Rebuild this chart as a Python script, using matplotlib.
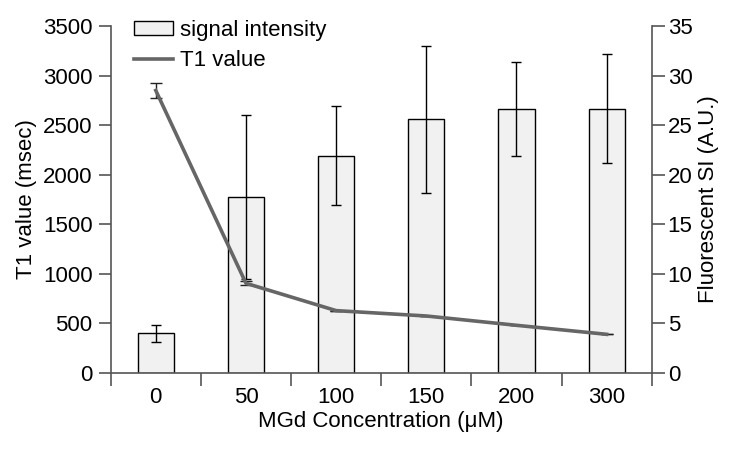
# Dual-axis bar + line chart: fluorescence signal and T1 value vs MGd concentration
import numpy as np
from matplotlib import pyplot as plt
from matplotlib.patches import Patch
from matplotlib.lines import Line2D

plt.rcParams['font.family'] = ['Liberation Sans', 'DejaVu Sans']

# Data
concentrations = ['0', '50', '100', '150', '200', '300']
signal_si = [4.0, 17.75, 21.9, 25.6, 26.65, 26.65]
signal_err = [0.88, 8.27, 5.0, 7.4, 4.72, 5.48]
t1_values = [2850, 905, 629, 575, 481, 390]
t1_err = [80, 20, 0, 0, 0, 0]

axis_grey = '#555555'
line_grey = '#666666'
fs = 16

fig = plt.figure(figsize=(7.36, 4.49), dpi=100)
ax1 = fig.add_axes([0.1504, 0.1693, 0.7351, 0.7727])
ax2 = ax1.twinx()
ax1.set_zorder(ax2.get_zorder() + 1)
ax1.patch.set_visible(False)

x = np.arange(len(concentrations))

# Bars on the right axis (fluorescent SI)
ax2.bar(x, signal_si, width=0.4, color='#f1f1f1', edgecolor='black', linewidth=1.0,
        yerr=signal_err, error_kw=dict(ecolor='black', elinewidth=1.0, capsize=3.5, capthick=1.0))

# T1 line on the left axis
ax1.errorbar(x, t1_values, yerr=t1_err, color=line_grey, lw=2.6, ecolor='#222222',
             elinewidth=1.0, capsize=4, capthick=1.0)

ax1.set_xlim(-0.5, len(concentrations) - 0.5)
ax1.set_ylim(0, 3500)
ax2.set_ylim(0, 35)
ax1.set_yticks(np.arange(0, 3501, 500))
ax2.set_yticks(np.arange(0, 36, 5))

ax1.set_xticks(x)
ax1.set_xticklabels(concentrations)
ax1.set_xticks(np.arange(-0.5, len(concentrations)), minor=True)
ax1.tick_params(axis='x', which='major', length=0, pad=10)
ax1.tick_params(axis='x', which='minor', length=9, width=1.2, color=axis_grey)

for ax in (ax1, ax2):
    ax.spines['top'].set_visible(False)
    for s in ('left', 'right', 'bottom'):
        ax.spines[s].set_color(axis_grey)
        ax.spines[s].set_linewidth(1.2)
    ax.tick_params(axis='y', length=9, width=1.2, color=axis_grey, labelsize=fs)
    ax.tick_params(axis='x', labelsize=fs)
ax1.tick_params(axis='y', pad=4)
ax2.tick_params(axis='y', pad=2.5)
ax2.spines['bottom'].set_visible(False)
ax2.spines['left'].set_visible(False)
ax1.spines['right'].set_visible(False)

ax1.set_ylabel('T1 value (msec)', fontsize=fs, labelpad=4)
ax2.set_ylabel('Fluorescent SI (A.U.)', fontsize=fs, labelpad=4)
ax1.set_xlabel('MGd Concentration (μM)', fontsize=fs, labelpad=2)

handles = [Patch(facecolor='#f1f1f1', edgecolor='black', linewidth=1.0),
           Line2D([0], [0], color=line_grey, lw=2.6)]
ax1.legend(handles, ['signal intensity', 'T1 value'], loc='upper left',
           bbox_to_anchor=(0.022, 1.05), frameon=False, fontsize=fs, borderpad=0,
           handlelength=1.75, handleheight=0.65, handletextpad=0.35, labelspacing=0.42)

plt.savefig('out.png', dpi=100)
